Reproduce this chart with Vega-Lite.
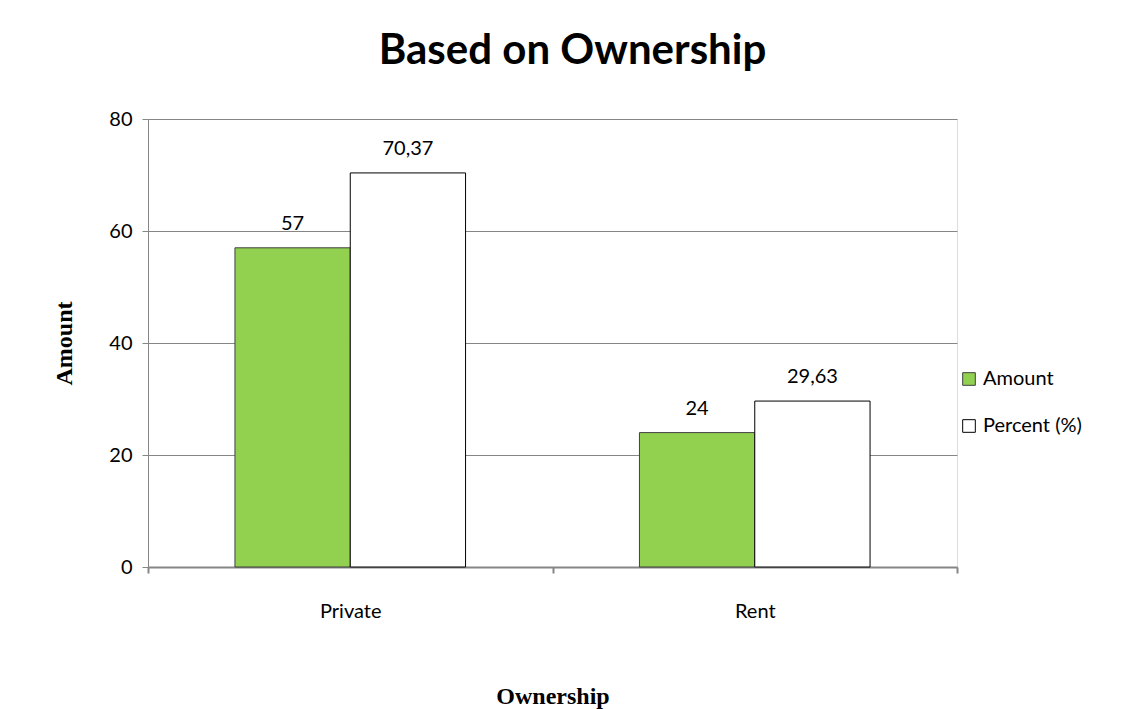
{
  "$schema": "https://vega.github.io/schema/vega-lite/v6.json",
  "width": 809,
  "height": 448,
  "autosize": {"type": "none"},
  "padding": {"left": 148, "top": 119, "right": 177, "bottom": 142},
  "background": "white",
  "title": {
    "text": "Based on Ownership",
    "font": "Lato",
    "fontSize": 42,
    "fontWeight": "bold",
    "color": "#000000",
    "anchor": "middle",
    "dx": 20,
    "offset": 36
  },
  "data": {
    "values": [
      {"ownership": "Private", "series": "Amount", "value": 57, "label": "57"},
      {"ownership": "Private", "series": "Percent (%)", "value": 70.37, "label": "70,37"},
      {"ownership": "Rent", "series": "Amount", "value": 24, "label": "24"},
      {"ownership": "Rent", "series": "Percent (%)", "value": 29.63, "label": "29,63"}
    ]
  },
  "encoding": {
    "x": {
      "field": "ownership",
      "type": "nominal",
      "scale": {"paddingInner": 0, "paddingOuter": 0},
      "axis": {
        "title": "Ownership",
        "titleFont": "Liberation Serif",
        "titleFontSize": 24,
        "titleFontWeight": "bold",
        "titleColor": "#000000",
        "titlePadding": 63,
        "labelAngle": 0,
        "labelFont": "Lato",
        "labelFontSize": 20,
        "labelColor": "#000000",
        "labelPadding": 28,
        "tickBand": "extent",
        "tickSize": 6,
        "tickColor": "#868686",
        "tickWidth": 2,
        "domainColor": "#868686",
        "domainWidth": 2
      }
    },
    "xOffset": {
      "field": "series",
      "sort": ["Amount", "Percent (%)"],
      "scale": {"paddingInner": 0, "paddingOuter": 0.754}
    },
    "y": {
      "field": "value",
      "type": "quantitative",
      "scale": {"domain": [0, 80]},
      "axis": {
        "title": "Amount",
        "titleFont": "Liberation Serif",
        "titleFontSize": 24,
        "titleFontWeight": "bold",
        "titleColor": "#000000",
        "titlePadding": 32,
        "values": [0, 20, 40, 60, 80],
        "labelFont": "Lato",
        "labelFontSize": 20,
        "labelColor": "#000000",
        "labelPadding": 10,
        "tickSize": 6,
        "tickColor": "#868686",
        "tickWidth": 1,
        "domainColor": "#868686",
        "domainWidth": 1,
        "grid": true,
        "gridColor": "#868686",
        "gridWidth": 1
      }
    }
  },
  "layer": [
    {
      "mark": {"type": "bar", "strokeWidth": 1},
      "encoding": {
        "fill": {
          "field": "series",
          "type": "nominal",
          "scale": {"domain": ["Amount", "Percent (%)"], "range": ["#92d050", "#ffffff"]},
          "legend": {
            "title": null,
            "orient": "none",
            "legendX": 811,
            "legendY": 250,
            "symbolType": "square",
            "symbolSize": 160,
            "symbolStrokeColor": "#404040",
            "symbolStrokeWidth": 1,
            "labelFont": "Lato",
            "labelFontSize": 20,
            "labelColor": "#000000",
            "labelOffset": 4,
            "rowPadding": 27
          }
        },
        "stroke": {
          "field": "series",
          "type": "nominal",
          "scale": {"domain": ["Amount", "Percent (%)"], "range": ["#404040", "#000000"]},
          "legend": null
        }
      }
    },
    {
      "mark": {"type": "text", "baseline": "bottom", "dy": -14, "font": "Lato", "fontSize": 20, "color": "#000000"},
      "encoding": {
        "text": {"field": "label"}
      }
    }
  ]
}
